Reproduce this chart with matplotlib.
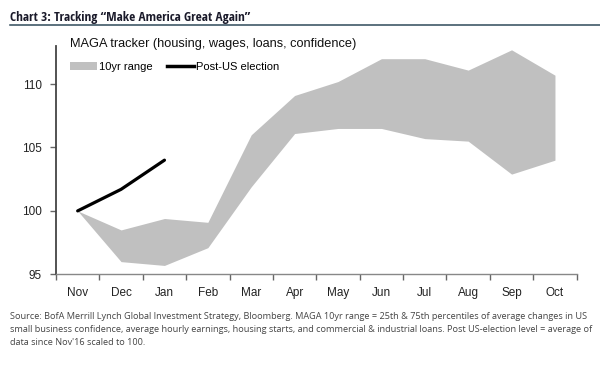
import numpy as np
import matplotlib
matplotlib.use("Agg")
import matplotlib.pyplot as plt
from matplotlib.patches import Patch
from matplotlib.lines import Line2D
from matplotlib import font_manager

# MAGA tracker data (index level, Nov = 100)
months = ["Nov", "Dec", "Jan", "Feb", "Mar", "Apr", "May", "Jun", "Jul", "Aug", "Sep", "Oct"]
range_low = [100.0, 96.0, 95.7, 97.1, 101.9, 106.1, 106.5, 106.5, 105.7, 105.5, 102.9, 104.0]
range_high = [100.0, 98.5, 99.4, 99.1, 106.0, 109.1, 110.2, 112.0, 112.0, 111.1, 112.7, 110.7]
post_election = [100.0, 101.7, 104.0]

plt.rcParams['font.family'] = ['Liberation Sans', 'DejaVu Sans']

# narrow bold font for the header if there is one
installed = {f.name for f in font_manager.fontManager.ttflist}
header_font = 'DejaVu Sans'
for name in ['Liberation Sans Narrow', 'Open Sans Condensed', 'Roboto Condensed']:
    if name in installed:
        header_font = name
        break

fig = plt.figure(figsize=(6, 3.72), dpi=100)
ax = fig.add_axes([0.0933, 0.2626, 0.8678, 0.6137])

x = np.arange(len(months))
ax.fill_between(x, range_low, range_high, color='#c0c0c0', linewidth=0)
ax.plot(x[:len(post_election)], post_election, color='black', linewidth=2.3,
        solid_capstyle='round')

ax.set_xlim(-0.5, len(months) - 0.5)
ax.set_ylim(95, 113)
ax.set_yticks([95, 100, 105, 110])
ax.set_xticks(x)
ax.set_xticklabels(months)
ax.set_xticks(np.arange(-0.5, len(months), 1), minor=True)
ax.tick_params(axis='x', which='major', length=0, pad=9, labelsize=8.5, colors='#222222')
ax.tick_params(axis='x', which='minor', length=4, width=1, color='#666666')
ax.tick_params(axis='y', length=4, width=1, color='#666666', labelsize=8.5,
               labelcolor='#222222', pad=6)

for side in ['top', 'right']:
    ax.spines[side].set_visible(False)
ax.spines['left'].set_color('#444444')
ax.spines['left'].set_linewidth(1.3)
ax.spines['bottom'].set_color('#888888')
ax.spines['bottom'].set_linewidth(1)

ax.text(0.026, 1.007, "MAGA tracker (housing, wages, loans, confidence)",
        transform=ax.transAxes, fontsize=9.2, color='#111111', va='center')

handles = [Patch(facecolor='#c0c0c0', edgecolor='none'),
           Line2D([], [], color='black', linewidth=2.5)]
ax.legend(handles, ["10yr range", "Post-US election"], ncol=2, frameon=False,
          loc='center left', bbox_to_anchor=(0.027, 0.908), fontsize=8,
          handlelength=2.45, handleheight=0.75, handletextpad=0.2, columnspacing=1.25,
          borderaxespad=0, borderpad=0)

# header
fig.text(0.017, 0.952, "Chart 3: Tracking \u201cMake America Great Again\u201d",
         fontsize=9.5, fontweight='bold', color='#1a1a2a', va='center',
         family=header_font, fontstretch='condensed')
fig.add_artist(Line2D([0.017, 1.0], [0.932, 0.932], color='#2f4a5a', linewidth=1.1))

note = ("Source: BofA Merrill Lynch Global Investment Strategy, Bloomberg. MAGA 10yr range = 25th & 75th "
        "percentiles of average changes in US\nsmall business confidence, average hourly earnings, "
        "housing starts, and commercial & industrial loans. Post US-election level = average of\n"
        "data since Nov'16 scaled to 100.")
fig.text(0.017, 0.162, note, fontsize=6.55, color='#444444', va='top', linespacing=1.6,
         family=['Open Sans', 'DejaVu Sans'])

fig.savefig("out.png", dpi=100)
